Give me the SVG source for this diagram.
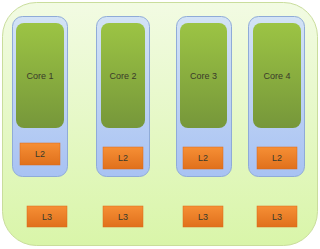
<svg xmlns="http://www.w3.org/2000/svg" width="320" height="249" viewBox="0 0 320 249">
<defs>
<linearGradient id="gOuter" x1="0" y1="0" x2="0" y2="1"><stop offset="0" stop-color="#f2fbe3"/><stop offset="1" stop-color="#d9f5a9"/></linearGradient>
<linearGradient id="gBlue" x1="0" y1="0" x2="0" y2="1"><stop offset="0" stop-color="#d3e3f5"/><stop offset="1" stop-color="#a8c2f3"/></linearGradient>
<linearGradient id="gCore" x1="0" y1="0" x2="0" y2="1"><stop offset="0" stop-color="#9cc444"/><stop offset="1" stop-color="#76973a"/></linearGradient>
<linearGradient id="gOr" x1="0" y1="0" x2="0" y2="1"><stop offset="0" stop-color="#f68f35"/><stop offset="1" stop-color="#e0701c"/></linearGradient>
<style>
.outer{fill:url(#gOuter);stroke:#c9dd9c;stroke-width:1}
.blue{fill:url(#gBlue);stroke:#8fabd8;stroke-width:1}
.core{fill:url(#gCore)}
.cache{fill:url(#gOr);stroke:#d9691a;stroke-width:0.5}
text{font-family:"Liberation Sans",Arial,sans-serif;font-size:9px;fill:#3a3a2a;text-anchor:middle;dominant-baseline:central}
</style>
</defs>
<rect class="outer" x="2.5" y="2.5" width="315" height="243" rx="34"/>
<g id="col1">
<rect class="blue" x="12.5" y="16.5" width="55" height="160" rx="10"/>
<rect class="core" x="16" y="23" width="48" height="105" rx="8"/>
<text x="40" y="76">Core 1</text>
<rect class="cache" x="20" y="143" width="40" height="22"/>
<text x="40" y="154">L2</text>
</g>
<g id="col2">
<rect class="blue" x="96.5" y="16.5" width="53" height="160" rx="10"/>
<rect class="core" x="101" y="23" width="44" height="105" rx="8"/>
<text x="123" y="76">Core 2</text>
<rect class="cache" x="103" y="147" width="40" height="22"/>
<text x="123" y="158">L2</text>
</g>
<g id="col3">
<rect class="blue" x="176.5" y="16.5" width="55" height="160" rx="10"/>
<rect class="core" x="180" y="23" width="47" height="105" rx="8"/>
<text x="203.5" y="76">Core 3</text>
<rect class="cache" x="183" y="147" width="40" height="22"/>
<text x="203" y="158">L2</text>
</g>
<g id="col4">
<rect class="blue" x="248.5" y="16.5" width="56" height="160" rx="10"/>
<rect class="core" x="253" y="23" width="48" height="105" rx="8"/>
<text x="277" y="76">Core 4</text>
<rect class="cache" x="257" y="147" width="40" height="22"/>
<text x="277" y="158">L2</text>
</g>
<g id="l3-1"><rect class="cache" x="27" y="206" width="40" height="21"/><text x="47" y="216.5">L3</text></g>
<g id="l3-2"><rect class="cache" x="103" y="206" width="40" height="21"/><text x="123" y="216.5">L3</text></g>
<g id="l3-3"><rect class="cache" x="183" y="206" width="40" height="21"/><text x="203" y="216.5">L3</text></g>
<g id="l3-4"><rect class="cache" x="257" y="206" width="40" height="21"/><text x="277" y="216.5">L3</text></g>
<g id="connectors"/>
</svg>
